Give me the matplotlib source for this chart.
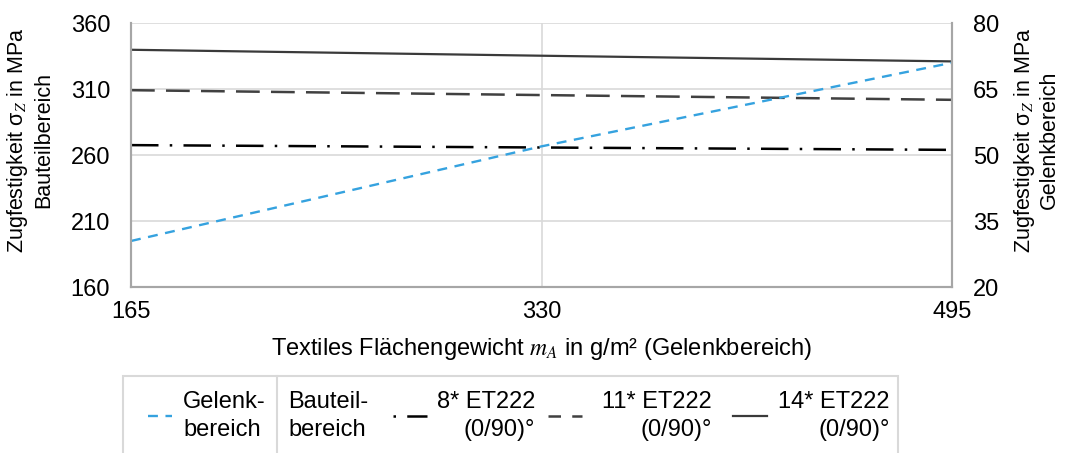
import matplotlib
matplotlib.use("Agg")
import matplotlib.pyplot as plt
from matplotlib.lines import Line2D

plt.rcParams['font.family'] = ['Liberation Sans', 'DejaVu Sans']
plt.rcParams['mathtext.fontset'] = 'stix'

# Flächengewicht (x) und Festigkeiten
mass = [165, 330, 495]
et222_8 = [267.6, 265.8, 264.0]
et222_11 = [309.2, 305.5, 301.9]
et222_14 = [339.8, 335.3, 331.0]
gelenk = [30.5, 52.0, 71.0]

left_ticks = [160, 210, 260, 310, 360]
right_ticks = [20, 35, 50, 65, 80]

blue = '#35a2df'
grid_c = '#d9d9d9'
spine_c = '#a6a6a6'
fs = 17

fig = plt.figure(figsize=(10.65, 4.53), dpi=100)
ax = fig.add_axes([0.123, 0.366, 0.771, 0.583])
ax2 = ax.twinx()

ax.plot(mass, et222_14, color='#3a3a3a', lw=1.6, solid_capstyle='butt')
ax.plot(mass, et222_11, color='#404040', lw=1.8, dashes=(9.5, 4.5))
ax.plot(mass, et222_8, color='black', lw=1.8, dashes=(11, 4.5, 1, 4.5))
ax2.plot(mass, gelenk, color=blue, lw=1.7, dashes=(4.2, 3.2))

ax.set_xlim(165, 495)
ax.set_ylim(160, 360)
ax2.set_ylim(20, 80)
ax.set_xticks(mass)
ax.set_yticks(left_ticks)
ax2.set_yticks(right_ticks)

ax.grid(True, color=grid_c, lw=1.2)
ax.set_axisbelow(True)
for a in (ax, ax2):
    a.tick_params(length=0, labelsize=fs)
    a.spines['top'].set_visible(False)
    for s in ('left', 'right', 'bottom'):
        a.spines[s].set_color(spine_c)
        a.spines[s].set_linewidth(1.5)
ax.tick_params(axis='y', pad=15)
ax.tick_params(axis='x', pad=10)
ax2.tick_params(axis='y', pad=15)

ax.set_ylabel('Zugfestigkeit σ$_Z$ in MPa\nBauteilbereich', fontsize=15.5, linespacing=1.15)
ax.yaxis.set_label_coords(-0.094, 0.557)
ax2.set_ylabel('Zugfestigkeit σ$_Z$ in MPa\nGelenkbereich', fontsize=15.5,
               rotation=90, linespacing=1.1)
ax2.yaxis.set_label_coords(1.073, 0.557)
ax.set_xlabel('Textiles Flächengewicht $m_A$ in g/m² (Gelenkbereich)', fontsize=fs, labelpad=9)

# Legende (manuell, wie im Original mit Trennlinie)
def fx(px):
    return px / 1065.0

def fy(py):
    return 1 - py / 453.0

box = plt.Rectangle((fx(123), fy(460)), fx(898) - fx(123), fy(376) - fy(460),
                    transform=fig.transFigure, fill=False, ec=grid_c, lw=1.5)
fig.add_artist(box)
fig.add_artist(Line2D([fx(277), fx(277)], [fy(376), fy(460)],
                      transform=fig.transFigure, color=grid_c, lw=1.5))

ymid = fy(416)
leg_items = [
    (148, 172, dict(color=blue, lw=1.7, dashes=(4.2, 3.2)), 183, 'Gelenk-\nbereich', 'left'),
    (None, None, None, 288, 'Bauteil-\nbereich', 'left'),
    (393, 427, dict(color='black', lw=1.8, dashes=(1, 4.5, 11, 4.5)), 535, '8* ET222\n(0/90)°', 'right'),
    (548, 582, dict(color='#404040', lw=1.8, dashes=(5, 4.5)), 712, '11* ET222\n(0/90)°', 'right'),
    (733, 767, dict(color='#3a3a3a', lw=1.6), 890, '14* ET222\n(0/90)°', 'right'),
]
for x0, x1, style, tx, label, ha in leg_items:
    if style is not None:
        fig.add_artist(Line2D([fx(x0), fx(x1)], [ymid, ymid], transform=fig.transFigure, **style))
    fig.text(fx(tx), ymid, label, fontsize=fs, ha=ha, va='center',
             multialignment=ha, linespacing=1.3)

fig.savefig('out.png', dpi=100)
